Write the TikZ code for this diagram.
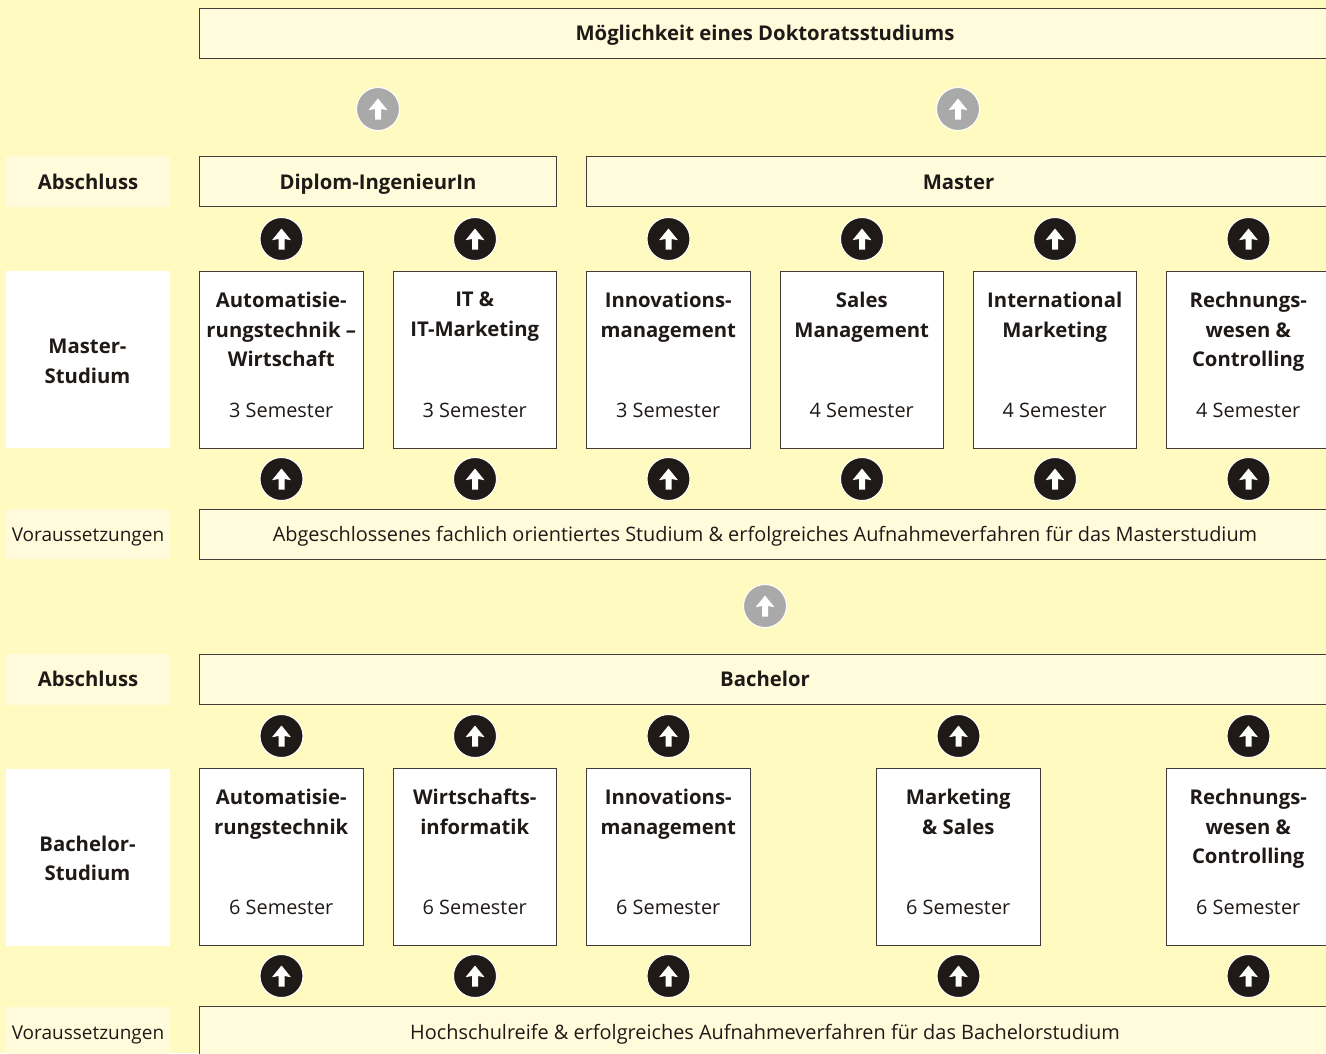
\documentclass[tikz,border=0pt]{standalone}
\usepackage{fontspec}
\setmainfont{Open Sans}
\definecolor{bgy}{HTML}{FFFABF}
\definecolor{lighty}{HTML}{FFFBDB}
\definecolor{ink}{HTML}{1F1A17}
\definecolor{greyc}{HTML}{A9A9A9}
\newcommand{\regf}{\fontsize{19.9}{29.7}\selectfont}
\newcommand{\boldf}{\fontsize{20.3}{29.7}\selectfont\bfseries}
\tikzset{
  x=1pt,y=-1pt,
  every node/.style={text=ink,font=\regf,inner sep=0pt,outer sep=0pt},
  oneline/.style={text height=17pt,text depth=2pt},
  boldline/.style={oneline,font=\boldf},
  framed/.style={draw=ink!85,line width=1pt,anchor=north west,align=center},
  band/.style={framed,fill=lighty},
  whitebox/.style={framed,fill=white},
  sidelabel/.style={fill=lighty,minimum width=164pt},
  sidesmall/.style={sidelabel,font=\fontsize{19}{29.7}\selectfont},
  sidewhite/.style={fill=white,minimum width=164pt},
  boxtitle/.style={anchor=north,align=center,font=\boldf},
  semlabel/.style={anchor=center,oneline},
  upicon/.style={circle,draw=white,line width=1pt,minimum size=43pt,fill=#1,
    path picture={\fill[white] (path picture bounding box.center)
      ++(-3,10.5) -- ++(6,0) -- ++(0,-10.5) -- ++(6.5,1.2) -- ++(-9.5,-11.7) -- ++(-9.5,11.7) -- ++(6.5,-1.2) -- cycle;}},
}
\begin{document}
\begin{tikzpicture}
\useasboundingbox[fill=bgy] (0,0) rectangle (1326,1053);
\clip (0,0) rectangle (1326,1053);
% top
\node[band,minimum width=1140pt,minimum height=50pt] (doc) at (199.5,8) {};
\node[boldline] (doct) at (765,32.5) {Möglichkeit eines Doktoratsstudiums};
\node[upicon=greyc] (g1) at (378,109) {};
\node[upicon=greyc] (g2) at (958,109) {};
% master Abschluss
\node[sidelabel,minimum height=51pt,boldline] (sa1) at (88,181.5) {Abschluss};
\node[band,minimum width=357pt,minimum height=50pt] (dip) at (199.5,156.5) {};
\node[boldline] (dipt) at (378,181.5) {Diplom-IngenieurIn};
\node[band,minimum width=754pt,minimum height=50pt] (mas) at (586,156.5) {};
\node[boldline] (mast) at (958.5,181.5) {Master};
\foreach \n/\x in {a/281.5,b/475,c/668.5,d/862,e/1055,f/1248.5}{
  \node[upicon=ink] (mt\n) at (\x,239) {};
  \node[upicon=ink] (mb\n) at (\x,479) {};
}
% master studium
\node[sidewhite,minimum height=177pt] (sm) at (88,359.5) {};
\node[align=center,font=\boldf] (smt) at (87.5,361) {Master-\\Studium};
\foreach \n/\x/\t/\s in {
  a/199.5/{Automatisie-\\rungstechnik –\\Wirtschaft}/3,
  b/393/{IT \&\\IT-Marketing}/3,
  c/586.5/{Innovations-\\management}/3,
  d/780/{Sales\\Management}/4,
  e/973/{International\\Marketing}/4,
  f/1166.5/{Rechnungs-\\wesen \&\\Controlling}/4}{
  \node[whitebox,minimum width=163.5pt,minimum height=176.5pt] (mbox\n) at (\x,271.5) {};
  \node[boxtitle] (mtitle\n) at ([yshift=-20.5pt]mbox\n.north) {\t};
  \node[semlabel] (msem\n) at ([yshift=-138.5pt]mbox\n.north) {\s{} Semester};
}
% Voraussetzungen 1
\node[sidesmall,minimum height=50pt,oneline] (sv1) at (88,534) {Voraussetzungen};
\node[band,minimum width=1140pt,minimum height=50pt] (v1) at (199.5,509.5) {};
\node[oneline] (v1t) at (765,534) {Abgeschlossenes fachlich orientiertes Studium \& erfolgreiches Aufnahmeverfahren für das Masterstudium};
\node[upicon=greyc] (g3) at (765,606) {};
% bachelor
\node[sidelabel,minimum height=51pt,boldline] (sa2) at (88,679) {Abschluss};
\node[band,minimum width=1140pt,minimum height=50pt] (bac) at (199.5,654.5) {};
\node[boldline] (bact) at (765,679) {Bachelor};
\foreach \n/\x in {a/281.5,b/475,c/668.5,d/958.5,e/1248.5}{
  \node[upicon=ink] (bt\n) at (\x,736) {};
  \node[upicon=ink] (bb\n) at (\x,976) {};
}
\node[sidewhite,minimum height=177pt] (sb) at (88,857) {};
\node[align=center,font=\boldf] (sbt) at (87.5,858.5) {Bachelor-\\Studium};
\foreach \n/\x/\t in {
  a/199.5/{Automatisie-\\rungstechnik},
  b/393/{Wirtschafts-\\informatik},
  c/586.5/{Innovations-\\management},
  d/876.5/{Marketing\\\& Sales},
  e/1166.5/{Rechnungs-\\wesen \&\\Controlling}}{
  \node[whitebox,minimum width=163.5pt,minimum height=176.5pt] (bbox\n) at (\x,768.5) {};
  \node[boxtitle] (btitle\n) at ([yshift=-20.5pt]bbox\n.north) {\t};
  \node[semlabel] (bsem\n) at ([yshift=-138.5pt]bbox\n.north) {6 Semester};
}
\node[sidesmall,minimum height=50pt,oneline] (sv2) at (88,1031.5) {Voraussetzungen};
\node[band,minimum width=1140pt,minimum height=50pt] (v2) at (199.5,1006.5) {};
\node[oneline] (v2t) at (765,1031.5) {Hochschulreife \& erfolgreiches Aufnahmeverfahren für das Bachelorstudium};
\end{tikzpicture}
\end{document}
